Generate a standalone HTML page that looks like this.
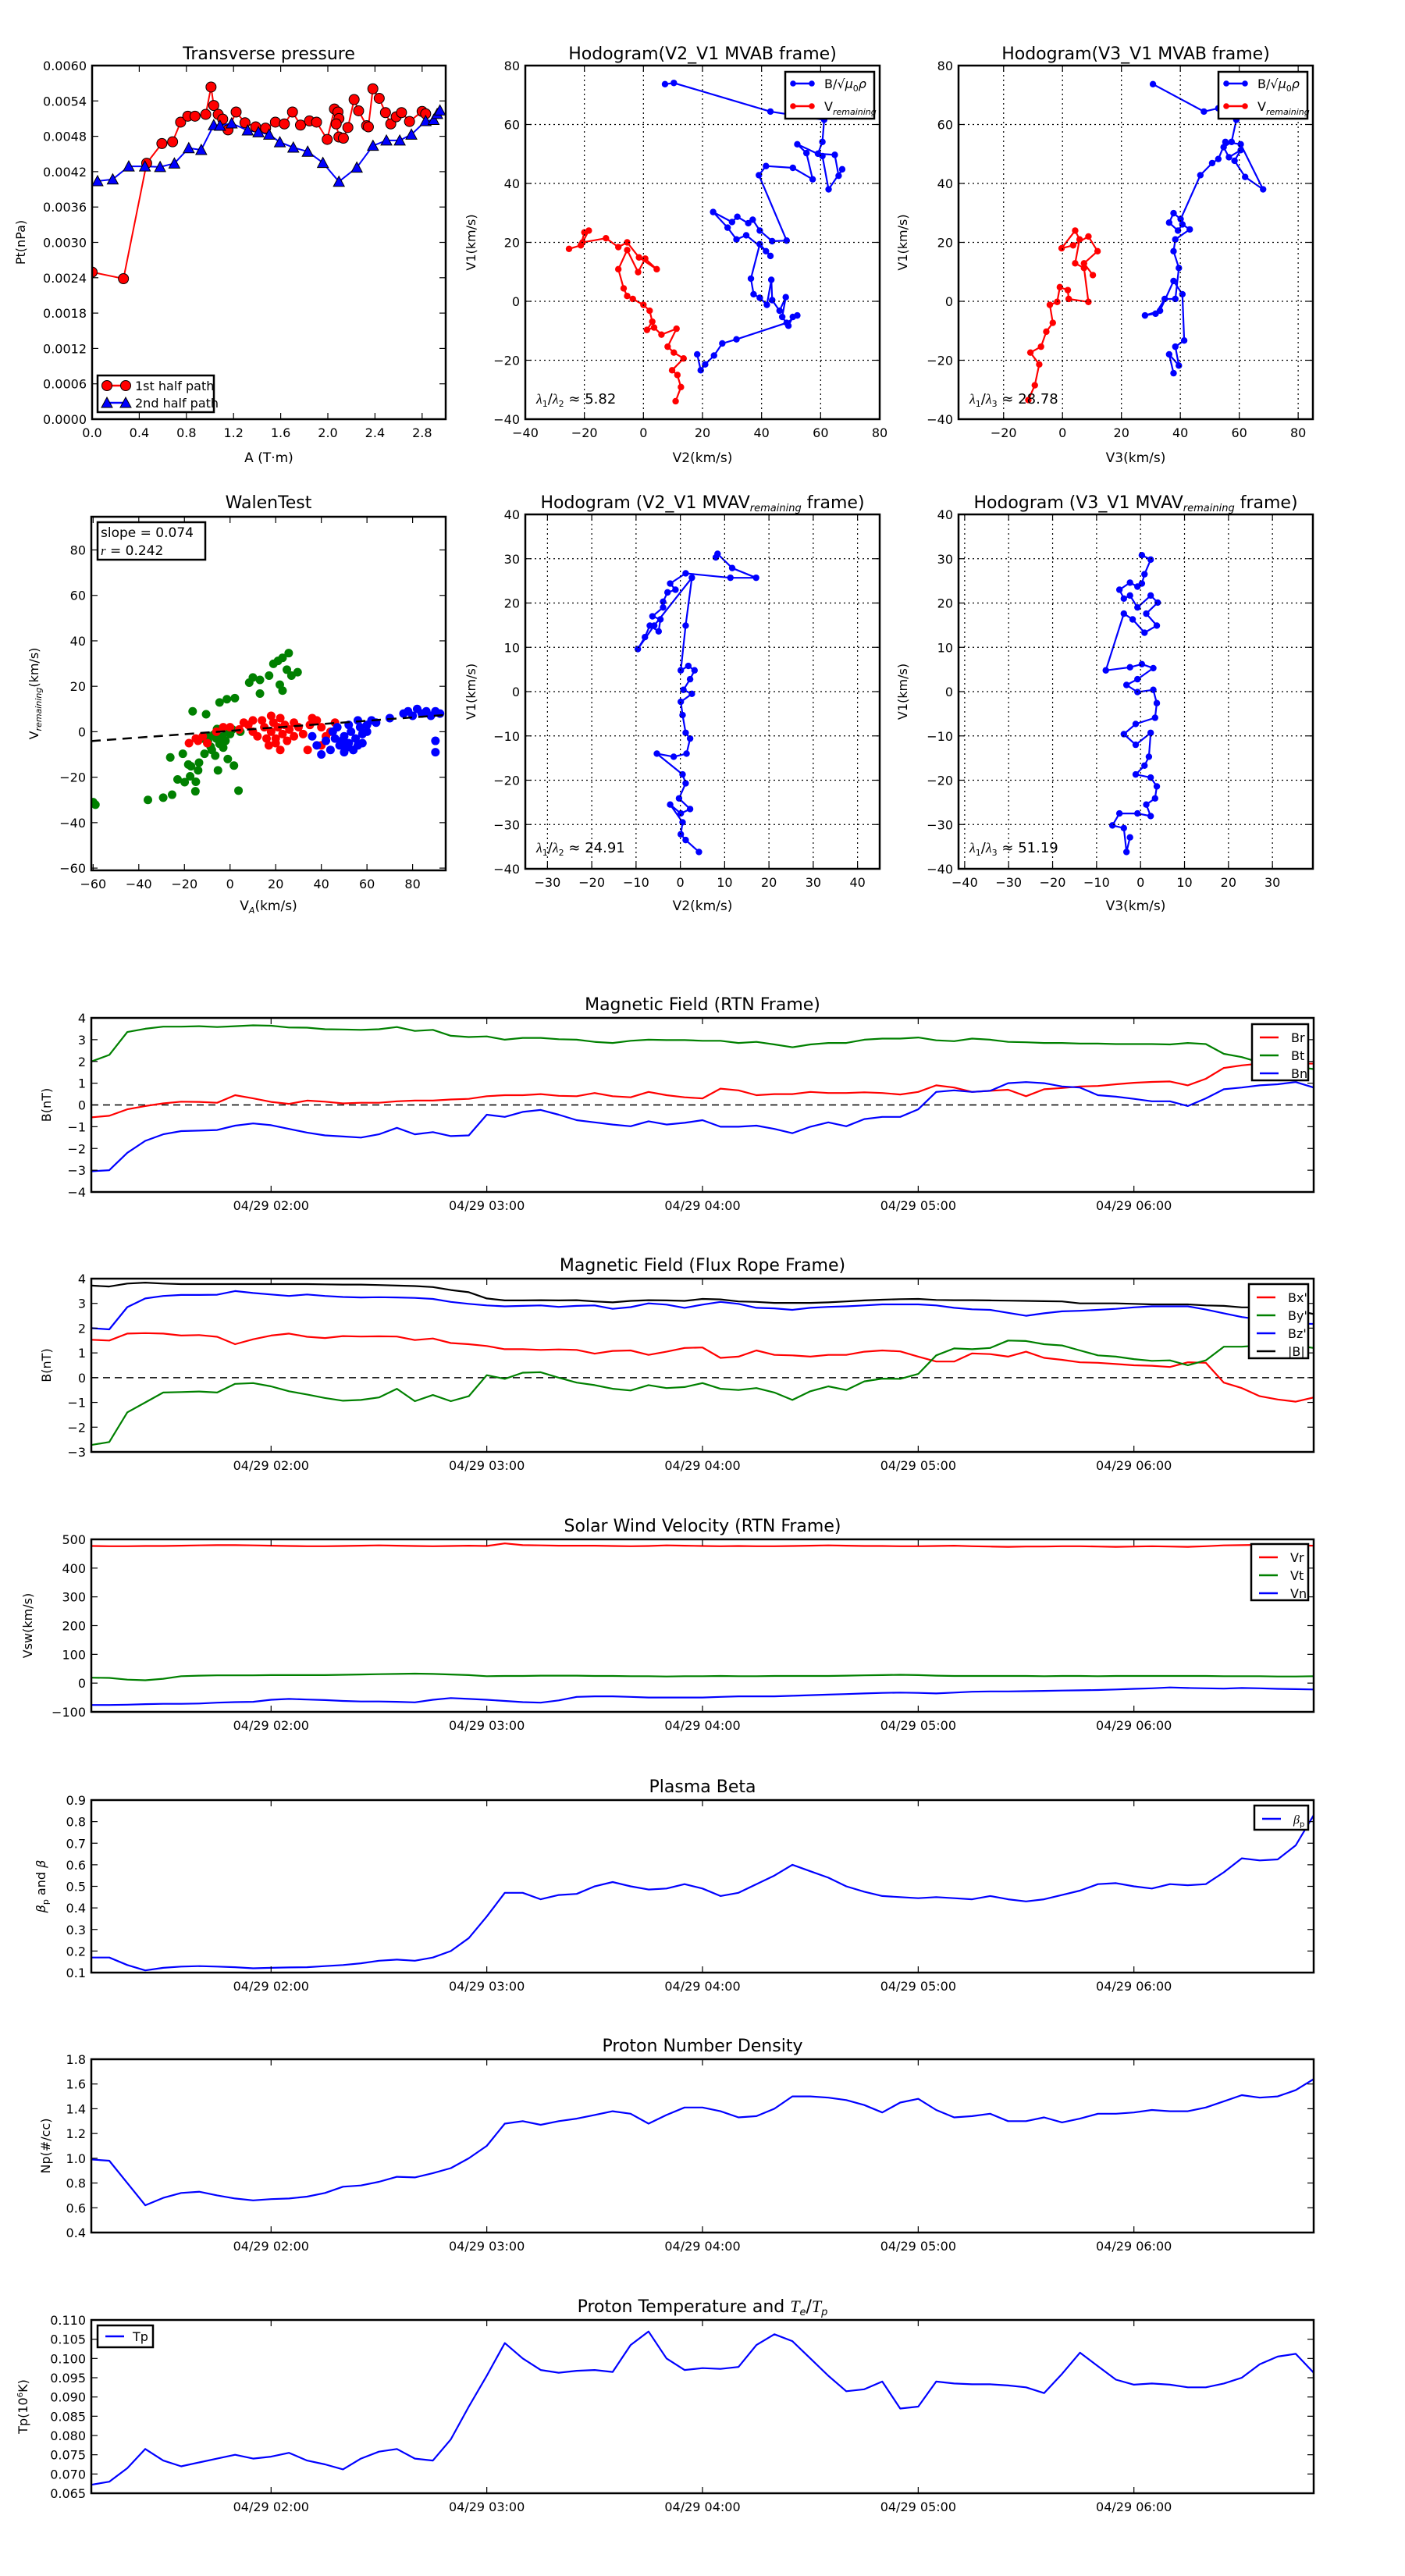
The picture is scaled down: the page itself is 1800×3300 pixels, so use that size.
<!DOCTYPE html>
<html><head><meta charset="utf-8"><title>Flux rope analysis</title>
<style>
html,body{margin:0;padding:0;background:#fff;}
svg{display:block;font-family:"DejaVu Sans","Liberation Sans",sans-serif;}
</style></head>
<body>
<svg id="fig" xmlns="http://www.w3.org/2000/svg" width="1800" height="3300" viewBox="0 0 1800 3300">
<rect x="0" y="0" width="1800" height="3300" fill="#fff"/>
</svg>
<script>
// ---------- Transverse pressure ----------
const ptRedA=[0,0.266,0.463,0.592,0.683,0.751,0.812,0.873,0.964,1.009,1.032,1.07,1.108,1.153,1.222,1.297,1.388,1.472,1.555,1.631,1.7,1.768,1.844,1.904,1.995,2.056,2.086,2.094,2.071,2.094,2.132,2.17,2.223,2.261,2.329,2.344,2.382,2.436,2.489,2.534,2.58,2.625,2.693,2.8,2.83];
const ptRedP=[0.002495,0.002384,0.004343,0.004677,0.004707,0.00504,0.005141,0.005141,0.005172,0.005636,0.005323,0.005172,0.005091,0.004909,0.005212,0.00503,0.00496,0.004939,0.00504,0.00501,0.005212,0.00499,0.005061,0.00504,0.004747,0.005263,0.005212,0.005101,0.00501,0.004788,0.004768,0.004949,0.005424,0.005232,0.00498,0.00496,0.005606,0.005444,0.005202,0.00501,0.005131,0.005202,0.005051,0.005222,0.005182];
const ptBlueA=[0.046,0.175,0.311,0.448,0.577,0.698,0.82,0.926,1.032,1.085,1.184,1.32,1.411,1.502,1.593,1.707,1.829,1.958,2.094,2.246,2.383,2.497,2.61,2.709,2.83,2.898,2.928,2.951];
const ptBlueP=[0.00404,0.00407,0.00429,0.00429,0.00428,0.00434,0.0046,0.00457,0.00499,0.00498,0.00502,0.0049,0.00487,0.00483,0.0047,0.00461,0.00454,0.00435,0.00403,0.00427,0.00464,0.00473,0.00473,0.00483,0.00506,0.00508,0.00518,0.00524];
const ptXTicks=[0,0.4,0.8,1.2,1.6,2.0,2.4,2.8];
const ptYTicks=[0,0.0006,0.0012,0.0018,0.0024,0.003,0.0036,0.0042,0.0048,0.0054,0.006];
// ---------- Hodogram V2-V1 MVAB ----------
const h1BlueX=[7.3,10.3,43,61.2,60.6,59.1,64.8,66.1,67.3,62.7,60.6,52.1,55.2,57.3,50.6,41.5,39.1,48.5,43.6,39.4,37,35.5,31.8,30,23.6,28.5,31.5,34.8,41.5,43,39.4,36.4,37.3,39.4,41.8,43.3,43.6,46.1,48.2,47,49.1,50.6,52.1,48.5,31.5,26.7,23.9,20.9,19.4,18.2];
const h1BlueY=[73.7,74.1,64.4,61.6,54.1,50.1,49.7,42.6,44.8,38,49.3,53.3,50.3,41.4,45.3,45.9,42.8,20.6,20.4,24,27.7,26.5,28.7,26.9,30.3,25,21,22.4,17,15.4,19.4,7.7,2.4,1.2,-1.2,7.3,0.4,-3.2,1.4,-5.3,-8.3,-5.3,-4.8,-7.3,-12.9,-14.3,-18.4,-21.4,-23.4,-18];
const h1RedX=[-25.2,-21.2,-20,-18.5,-20.6,-12.7,-8.5,-5.5,-1.5,4.5,0.6,-1.8,-5.5,-8.5,-6.7,-5.5,-3.6,0,2.1,3,1.2,3.6,6.1,11.2,8.2,10.3,13.6,9.7,11.5,12.7,10.9];
const h1RedY=[17.8,19,23.4,24,20,21.4,18.4,20,14.9,10.9,14.5,9.9,17.4,10.9,4.4,1.8,0.8,-1.2,-3.2,-6.9,-9.7,-8.9,-11.3,-9.3,-15.4,-17.4,-19.4,-23.4,-25,-29.1,-33.9];
// ---------- Hodogram V3-V1 MVAB ----------
const h2BlueX=[30.7,48,52.9,59,57.4,54.7,56.5,60.5,58.4,62,68.1,60.5,55.3,52.9,50.8,46.8,40.1,37.7,36.2,39.2,40.7,43.2,38.3,37.7,39.5,38.3,34.7,31.6,28,33.1,37.7,40.7,41.3,38.3,39.5,36.2,37.7];
const h2BlueY=[73.7,64.4,65.5,61.6,54.1,52.3,48.9,51.3,47.7,42.2,38,53.3,54.1,48.3,46.9,42.8,27.9,29.9,26.7,24,26.1,24.4,21,17,11.3,0.8,0.8,-4.2,-4.8,-3.2,6.9,2.4,-13.3,-15.4,-21.8,-18,-24.4];
const h2RedX=[-11.6,-9.4,-7.9,-10.9,-7.3,-5.5,-3.3,-4.3,-1.8,-0.9,1.8,2.1,8.8,7.3,4.3,5.8,4.3,-0.3,3.6,8.8,11.9,7.3,10.3];
const h2RedY=[-33.5,-28.5,-21.4,-17.4,-15.4,-10.3,-7.3,-1.2,-0.2,4.8,3.8,0.8,-0.2,11.3,12.9,21,24,18,19,22,17,12.9,8.9];
// ---------- Walen test ----------
const walGreenX=[-60,-59,-36,-29.3,-25.4,-23,-19.9,-17.5,-15.2,-17.1,-13.6,-18.3,-26.2,-20.7,-11.2,-6.5,-5.3,-8.5,-4.6,-9.7,-7.3,-3.4,-5.7,-1.4,1.7,3.7,4.5,-10.5,-16.4,-4.6,-1.4,2.1,8.4,13.1,17.1,10,13.1,23,21.8,26.9,24.9,29.6,21,23,25.7,19,-2,0,-8,-1,-12,1,-3,-6,-9,-14,-15];
const walGreenY=[-31,-32.1,-30,-29,-27.7,-21,-22.2,-19.6,-26.2,-15.2,-13.6,-14.4,-11.3,-9.7,-9.7,-10.5,-17,-6.6,-5.3,-4,-1.4,-2.2,1.2,0,-14.9,-25.9,0,7.7,9,12.9,14.3,14.8,21.6,22.8,24.7,23.9,16.8,18.1,20.7,24.7,27.3,26.2,31.2,32.5,34.6,29.9,-4,-1,-8,-12,-3,1,-7,-3,-2,-17,-22];
const walRedX=[-18,-15,-12,-10,-6,-3,0,4,6,8,10,12,14,15,16,18,19,20,21,22,23,24,25,26,28,30,32,34,35,36,38,40,42,44,46,18,22,10,28,-14,17,20,40];
const walRedY=[-5,-3,-2,-5,0,2,2,1,4,3,0,-2,5,2,-3,0,4,-5,2,6,-1,3,-4,1,-2,2,-1,-8,3,6,5,2,-2,0,4,7,-8,5,4,-4,-6,-3,-6];
const walBlueX=[36,38,40,42,44,45,46,48,50,50,52,53,54,55,56,57,58,58,60,60,62,64,70,76,78,80,82,84,86,88,90,92,90,90,47,52,56,54,51,49];
const walBlueY=[-2,-6,-10,-4,-8,0,-3,-6,-9,-2,-5,0,-8,-3,-6,2,-1,-5,0,3,5,4,6,8,9,7,10,8,9,7,9,8,-4,-9,2,3,5,-8,-7,-4];
const walSlope=[0.074], walIntercept=[0.4];
// ---------- Hodogram MVAV ----------
const h3X=[8,8.4,11.7,17.1,11.3,1.2,-2.3,-1.1,-2.9,-3.9,-3.9,-6.3,-4.5,-4.9,-6.9,-8,-9.6,-5.9,2.6,1.2,0.1,1.8,3.2,2.2,0.7,2.6,0.1,0.5,1.2,2.2,1.4,-1.5,-5.3,0.5,1.2,-0.3,2.2,0.1,-2.3,0.5,0.1,1.2,4.2];
const h3Y=[30.3,31.1,27.9,25.7,25.7,26.7,24.4,23,22.4,20.3,19,17,16.3,13.6,14.9,12.3,9.6,14.9,25.7,14.9,4.8,5.8,4.8,2.8,0.4,-0.5,-2.3,-5.3,-9.3,-10.6,-14,-14.7,-14,-18.7,-20.7,-24.1,-26.5,-27.5,-25.5,-29.5,-32.2,-33.5,-36.2];
const h4X=[0.3,2.3,0.9,0.3,-0.7,-2.4,-4.8,-3.8,-2.4,-0.7,2.3,3.9,1.3,3.7,0.9,-1.8,-3.8,-7.9,-2.4,0.3,2.9,-0.7,-3.2,-0.7,2.9,3.7,3.3,-1.1,-3.8,-1.1,2.3,1.9,0.9,-1.1,2.3,3.7,3.3,1.3,2.3,-0.7,-4.8,-6.4,-3.8,-3.2,-2.4];
const h4Y=[30.8,29.8,26.5,24.4,23.7,24.6,23,21,21.7,19,21.7,20.1,17.6,14.9,13.3,16.3,17.6,4.8,5.5,6.2,5.3,2.8,1.5,-0.1,0.4,-2.6,-5.9,-7.3,-9.6,-12,-9.3,-14.7,-16.7,-18.7,-19.4,-21.4,-24.1,-25.5,-28.1,-27.5,-27.5,-30.2,-30.8,-36.2,-32.9];
// ---------- Time series (5-min samples from 01:10) ----------
const tsStep=5;
const timeTickMin=[50,110,170,230,290];
const timeTickLabels=["04/29 02:00","04/29 03:00","04/29 04:00","04/29 05:00","04/29 06:00"];
const Br=[-0.57,-0.5,-0.2,-0.05,0.07,0.15,0.14,0.1,0.45,0.3,0.14,0.05,0.2,0.15,0.07,0.1,0.1,0.17,0.2,0.2,0.25,0.28,0.4,0.45,0.45,0.5,0.42,0.4,0.55,0.4,0.35,0.6,0.45,0.35,0.3,0.75,0.67,0.45,0.5,0.5,0.6,0.55,0.55,0.58,0.55,0.48,0.6,0.9,0.8,0.6,0.65,0.7,0.4,0.72,0.78,0.85,0.87,0.95,1.02,1.06,1.08,0.9,1.2,1.7,1.82,1.9,1.92,1.9,1.9];
const Bt=[2.0,2.3,3.35,3.5,3.6,3.6,3.62,3.58,3.62,3.66,3.64,3.56,3.55,3.48,3.47,3.45,3.48,3.58,3.4,3.45,3.18,3.12,3.15,3.0,3.08,3.08,3.02,3.0,2.9,2.85,2.95,3.0,2.98,2.98,2.95,2.95,2.85,2.9,2.78,2.65,2.78,2.85,2.85,3.0,3.05,3.05,3.1,2.97,2.93,3.05,3.0,2.9,2.88,2.85,2.85,2.82,2.82,2.8,2.8,2.8,2.78,2.85,2.8,2.35,2.2,1.95,1.85,1.75,1.65];
const Bn=[-3.05,-3.0,-2.2,-1.65,-1.35,-1.2,-1.18,-1.15,-0.95,-0.85,-0.93,-1.1,-1.27,-1.4,-1.45,-1.5,-1.35,-1.05,-1.35,-1.25,-1.43,-1.4,-0.45,-0.55,-0.32,-0.23,-0.45,-0.7,-0.8,-0.9,-0.98,-0.75,-0.9,-0.82,-0.7,-1.0,-1.0,-0.95,-1.1,-1.3,-1.0,-0.8,-0.98,-0.65,-0.55,-0.55,-0.2,0.6,0.67,0.6,0.65,1.0,1.05,1.0,0.85,0.8,0.45,0.38,0.28,0.17,0.17,-0.05,0.3,0.72,0.8,0.9,0.95,1.05,0.8];
const Bxp=[1.53,1.5,1.78,1.8,1.78,1.7,1.72,1.65,1.35,1.55,1.7,1.78,1.65,1.6,1.68,1.66,1.67,1.66,1.52,1.58,1.4,1.35,1.28,1.15,1.15,1.12,1.14,1.12,0.97,1.08,1.1,0.92,1.05,1.2,1.22,0.8,0.85,1.1,0.92,0.9,0.85,0.92,0.92,1.05,1.1,1.06,0.85,0.65,0.65,0.98,0.95,0.85,1.05,0.8,0.72,0.62,0.6,0.55,0.5,0.48,0.43,0.62,0.6,-0.2,-0.42,-0.75,-0.88,-0.97,-0.8];
const Byp=[-2.72,-2.6,-1.4,-1.0,-0.6,-0.58,-0.56,-0.6,-0.25,-0.22,-0.35,-0.55,-0.68,-0.82,-0.93,-0.9,-0.8,-0.45,-0.95,-0.7,-0.95,-0.75,0.1,-0.05,0.2,0.22,0.0,-0.2,-0.3,-0.45,-0.52,-0.3,-0.42,-0.38,-0.22,-0.45,-0.5,-0.42,-0.6,-0.9,-0.55,-0.35,-0.5,-0.15,-0.04,-0.05,0.15,0.9,1.18,1.15,1.2,1.5,1.48,1.35,1.3,1.1,0.9,0.85,0.75,0.68,0.7,0.5,0.7,1.25,1.25,1.3,1.3,1.3,1.2];
const Bzp=[2.0,1.95,2.85,3.2,3.3,3.34,3.34,3.35,3.5,3.42,3.36,3.3,3.36,3.3,3.26,3.24,3.25,3.24,3.22,3.18,3.06,2.98,2.92,2.88,2.9,2.92,2.86,2.9,2.92,2.78,2.85,3.0,2.95,2.82,2.95,3.06,2.98,2.82,2.8,2.74,2.82,2.86,2.88,2.92,2.96,2.96,2.96,2.92,2.82,2.76,2.74,2.62,2.5,2.6,2.68,2.7,2.74,2.78,2.84,2.88,2.88,2.88,2.75,2.6,2.45,2.35,2.28,2.18,2.17];
const Bmag=[3.72,3.68,3.8,3.84,3.8,3.78,3.78,3.78,3.78,3.78,3.78,3.78,3.78,3.77,3.76,3.76,3.74,3.72,3.7,3.66,3.54,3.45,3.2,3.12,3.12,3.13,3.12,3.13,3.08,3.04,3.1,3.13,3.12,3.1,3.18,3.16,3.08,3.06,3.02,3.02,3.02,3.04,3.08,3.12,3.15,3.17,3.18,3.14,3.13,3.13,3.12,3.11,3.1,3.09,3.08,3.0,3.0,3.0,2.98,2.96,2.96,2.96,2.92,2.9,2.84,2.84,2.78,2.73,2.57];
const Vr=[477,476,476,477,477,478,479,480,480,479,478,477,476,476,477,478,479,478,477,476,477,478,477,486,480,479,478,478,478,477,476,477,479,478,477,476,477,476,476,477,478,479,478,477,477,476,476,477,478,476,475,474,475,475,476,476,475,474,475,476,475,474,476,479,480,481,480,479,478];
const Vt=[19,18,12,10,15,24,26,27,27,27,28,28,28,28,29,30,31,32,33,32,30,28,24,25,25,26,26,26,25,25,24,24,23,24,24,25,24,24,25,25,25,25,26,27,28,29,28,26,25,25,25,25,25,24,25,25,24,25,25,25,25,25,25,24,24,24,23,23,24];
const Vn=[-76,-76,-75,-73,-72,-72,-71,-68,-66,-65,-58,-55,-57,-59,-62,-64,-64,-65,-67,-58,-52,-55,-58,-62,-66,-68,-60,-48,-46,-46,-48,-50,-50,-50,-50,-48,-46,-46,-46,-44,-42,-40,-38,-36,-34,-33,-34,-36,-33,-30,-29,-29,-28,-27,-26,-25,-24,-22,-20,-18,-15,-17,-18,-19,-17,-18,-20,-21,-22];
const betaP=[0.17,0.17,0.135,0.11,0.122,0.128,0.13,0.128,0.125,0.12,0.122,0.124,0.125,0.13,0.135,0.143,0.155,0.16,0.155,0.17,0.2,0.26,0.36,0.47,0.47,0.44,0.46,0.465,0.5,0.52,0.5,0.485,0.49,0.51,0.49,0.455,0.47,0.51,0.55,0.6,0.57,0.54,0.5,0.475,0.455,0.45,0.445,0.45,0.445,0.44,0.455,0.44,0.43,0.44,0.46,0.48,0.51,0.515,0.5,0.49,0.51,0.505,0.51,0.565,0.63,0.62,0.625,0.69,0.83];
const Np=[0.99,0.98,0.8,0.62,0.68,0.72,0.73,0.7,0.675,0.66,0.67,0.675,0.69,0.72,0.77,0.78,0.81,0.85,0.845,0.88,0.92,1.0,1.1,1.28,1.3,1.27,1.3,1.32,1.35,1.38,1.36,1.28,1.35,1.41,1.41,1.38,1.33,1.34,1.4,1.5,1.5,1.49,1.47,1.43,1.37,1.45,1.48,1.39,1.33,1.34,1.36,1.3,1.3,1.33,1.29,1.32,1.36,1.36,1.37,1.39,1.38,1.38,1.41,1.46,1.51,1.49,1.5,1.55,1.64];
const Tp=[0.0672,0.068,0.0715,0.0765,0.0735,0.072,0.073,0.074,0.075,0.074,0.0745,0.0755,0.0735,0.0725,0.0712,0.074,0.0758,0.0765,0.074,0.0735,0.079,0.0875,0.0955,0.104,0.1,0.097,0.0963,0.0968,0.097,0.0965,0.1035,0.107,0.1,0.097,0.0975,0.0973,0.0978,0.1035,0.1063,0.1045,0.1,0.0955,0.0915,0.092,0.094,0.087,0.0875,0.094,0.0935,0.0933,0.0933,0.093,0.0925,0.091,0.096,0.1015,0.098,0.0945,0.0932,0.0935,0.0932,0.0925,0.0925,0.0935,0.095,0.0985,0.1005,0.1012,0.0963];

const NS='http://www.w3.org/2000/svg';
const svg=document.getElementById('fig');
function mk(tag,attrs,parent){const e=document.createElementNS(NS,tag);for(const k in attrs)e.setAttribute(k,attrs[k]);(parent||svg).appendChild(e);return e;}
let clipN=0;
function axes(name,box,xl,yl){
  const g=mk('g',{});
  
  
  const id='c'+(clipN++);
  const cp=mk('clipPath',{id:id},g);
  mk('rect',{x:box.x0,y:box.y0,width:box.x1-box.x0,height:box.y1-box.y0},cp);
  const plot=mk('g',{'clip-path':'url(#'+id+')'},g);
  
  
  const sx=v=>box.x0+(v-xl[0])/(xl[1]-xl[0])*(box.x1-box.x0);
  const sy=v=>box.y1-(v-yl[0])/(yl[1]-yl[0])*(box.y1-box.y0);
  return {g,plot,box,sx,sy};
}
function frame(ax){
  const r=mk('rect',{x:ax.box.x0,y:ax.box.y0,width:ax.box.x1-ax.box.x0,height:ax.box.y1-ax.box.y0,fill:'none',stroke:'#000','stroke-width':2.5},ax.g);
  
  
}
function xticks(ax,vals,labels,grid){
  const b=ax.box;
  vals.forEach((v,i)=>{
    const x=ax.sx(v);
    if(grid){mk('line',{x1:x,x2:x,y1:b.y0,y2:b.y1,stroke:'#000','stroke-width':1.2,'stroke-dasharray':'2,4'},ax.g);}
    mk('line',{x1:x,x2:x,y1:b.y1,y2:b.y1-8,stroke:'#000','stroke-width':1.2},ax.g);
    mk('line',{x1:x,x2:x,y1:b.y0,y2:b.y0+8,stroke:'#000','stroke-width':1.2},ax.g);
    const t=mk('text',{x:x,y:b.y1+23,'text-anchor':'middle','font-size':16,fill:'#000'},ax.g);
    t.textContent=labels[i];
    
    
  });
}
function yticks(ax,vals,labels,grid){
  const b=ax.box;
  vals.forEach((v,i)=>{
    const y=ax.sy(v);
    if(grid){mk('line',{x1:b.x0,x2:b.x1,y1:y,y2:y,stroke:'#000','stroke-width':1.2,'stroke-dasharray':'2,4'},ax.g);}
    mk('line',{x1:b.x0,x2:b.x0+8,y1:y,y2:y,stroke:'#000','stroke-width':1.2},ax.g);
    mk('line',{x1:b.x1,x2:b.x1-8,y1:y,y2:y,stroke:'#000','stroke-width':1.2},ax.g);
    const t=mk('text',{x:b.x0-7,y:y+6,'text-anchor':'end','font-size':16,fill:'#000'},ax.g);
    t.textContent=labels[i];
    
    
  });
}
function title(ax,txt,y){
  const t=mk('text',{x:(ax.box.x0+ax.box.x1)/2,y:y,'text-anchor':'middle','font-size':22,fill:'#000'},ax.g);
  t.innerHTML=txt;
  
  
}
function xlabel(ax,txt,y){
  const t=mk('text',{x:(ax.box.x0+ax.box.x1)/2,y:y,'text-anchor':'middle','font-size':17,fill:'#000'},ax.g);
  t.innerHTML=txt;
  
  
}
function ylabel(ax,txt,x){
  const cy=(ax.box.y0+ax.box.y1)/2;
  const t=mk('text',{x:x,y:cy,'text-anchor':'middle','font-size':16,fill:'#000',transform:'rotate(-90 '+x+' '+cy+')'},ax.g);
  t.innerHTML=txt;
  
  
}
function pathLine(ax,xs,ys,color,w,name){
  const pts=xs.map((x,i)=>ax.sx(x).toFixed(1)+','+ax.sy(ys[i]).toFixed(1)).join(' ');
  const p=mk('polyline',{points:pts,fill:'none',stroke:color,'stroke-width':w,'stroke-linejoin':'round'},ax.plot);
  
  
  return p;
}
function dots(ax,xs,ys,color,r,name,edge){
  xs.forEach((x,i)=>{
    const c=mk('circle',{cx:ax.sx(x),cy:ax.sy(ys[i]),r:r,fill:color,stroke:edge||'none','stroke-width':edge?1:0},ax.plot);
    
    
  });
}
function legendBox(ax,x,y,w,h,name){
  const r=mk('rect',{x:x,y:y,width:w,height:h,fill:'#fff',stroke:'#000','stroke-width':2.5},ax.g);
  
  
}
function legendEntry(ax,x,y,color,label,marker,name){
  const g=mk('g',{},ax.g);
  
  
  mk('line',{x1:x,x2:x+24,y1:y,y2:y,stroke:color,'stroke-width':2.5},g);
  if(marker==='o'){mk('circle',{cx:x,cy:y,r:3.8,fill:color},g);mk('circle',{cx:x+24,cy:y,r:3.8,fill:color},g);}
  if(marker==='O'){mk('circle',{cx:x,cy:y,r:6.5,fill:color,stroke:'#000'},g);mk('circle',{cx:x+24,cy:y,r:6.5,fill:color,stroke:'#000'},g);}
  if(marker==='^'){[x,x+24].forEach(px=>mk('polygon',{points:(px-7)+','+(y+6)+' '+(px+7)+','+(y+6)+' '+px+','+(y-7),fill:color,stroke:'#000'},g));}
  const t=mk('text',{x:x+(marker==='O'||marker==='^'?36:40),y:y+6,'font-size':16,fill:'#000'},g);
  t.innerHTML=label;
}
const fmt=(d)=>v=>v.toFixed(d).replace('-','\u2212');
const rng=(a,b,s)=>{const r=[];for(let v=a;v<=b+1e-9;v+=s)r.push(+v.toFixed(6));return r;};

// ===== Transverse pressure =====
{
const ax=axes('transverse-pressure-chart',{x0:118,x1:571,y0:84,y1:537},[0,3],[0,0.006]);
pathLine(ax,ptRedA,ptRedP,'#ff0000',2,'first-half-line');
pathLine(ax,ptBlueA,ptBlueP,'#0000ff',2,'second-half-line');
dots(ax,ptRedA,ptRedP,'#ff0000',6.5,'first-half-point','#000');
ptBlueA.forEach((a,i)=>{const x=ax.sx(a),y=ax.sy(ptBlueP[i]);
  const p=mk('polygon',{points:(x-7)+','+(y+6)+' '+(x+7)+','+(y+6)+' '+x+','+(y-7),fill:'#0000ff',stroke:'#000'},ax.plot);
  
  });
xticks(ax,ptXTicks,ptXTicks.map(fmt(1)));
yticks(ax,ptYTicks,ptYTicks.map(fmt(4)));
frame(ax);
title(ax,'Transverse pressure',76);
xlabel(ax,'A (T·m)',592);
ylabel(ax,'Pt(nPa)',32);
legendBox(ax,125,481,149,47,'legend');
legendEntry(ax,137,494,'#ff0000','1st half path','O','legend-entry-first-half');
legendEntry(ax,137,516,'#0000ff','2nd half path','^','legend-entry-second-half');
}
// ===== Hodogram helpers =====
const bLabel='B/√<tspan font-style="italic">μ</tspan><tspan font-size="11" dy="4">0</tspan><tspan dy="-4" font-style="italic">ρ</tspan>';
const vLabel='V<tspan font-size="11" dy="5" font-style="italic">remaining</tspan>';
function hodo(name,box,xl,yl,xt,yt,series,ttl,ty,xlab,xly,ylx,lam,lamy,legend){
  const ax=axes(name,box,xl,yl);
  xticks(ax,xt,xt.map(fmt(0)),true);
  yticks(ax,yt,yt.map(fmt(0)),true);
  series.forEach(s=>{pathLine(ax,s.x,s.y,s.c,2.2,s.n+'-line');dots(ax,s.x,s.y,s.c,4.2,s.n+'-point');});
  frame(ax);
  title(ax,ttl,ty);
  xlabel(ax,xlab,xly);
  ylabel(ax,'V1(km/s)',ylx);
  const t=mk('text',{x:box.x0+14,y:lamy,'font-size':18,fill:'#000'},ax.g);
  t.innerHTML=lam;
  
  
  if(legend){
    legendBox(ax,legend,92,114,60,'legend');
    legendEntry(ax,legend+10,107,'#0000ff',bLabel,'o','legend-entry-b');
    legendEntry(ax,legend+10,136,'#ff0000',vLabel,'o','legend-entry-v');
  }
}
const lam=(a,b,v)=>'<tspan font-style="italic" font-family="Liberation Serif">λ</tspan><tspan font-size="11" dy="4">1</tspan><tspan dy="-4">/</tspan><tspan font-style="italic" font-family="Liberation Serif">λ</tspan><tspan font-size="11" dy="4">'+b+'</tspan><tspan dy="-4"> ≈ '+v+'</tspan>';
hodo('hodogram-v2-v1-mvab',{x0:673,x1:1127,y0:84,y1:537},[-40,80],[-40,80],rng(-40,80,20),rng(-40,80,20),
  [{x:h1BlueX,y:h1BlueY,c:'#0000ff',n:'b-series'},{x:h1RedX,y:h1RedY,c:'#ff0000',n:'v-series'}],
  'Hodogram(V2_V1 MVAB frame)',76,'V2(km/s)',592,609,lam(1,2,'5.82'),517,1006);
hodo('hodogram-v3-v1-mvab',{x0:1228,x1:1682,y0:84,y1:537},[-35.3,85],[-40,80],rng(-20,80,20),rng(-40,80,20),
  [{x:h2BlueX,y:h2BlueY,c:'#0000ff',n:'b-series'},{x:h2RedX,y:h2RedY,c:'#ff0000',n:'v-series'}],
  'Hodogram(V3_V1 MVAB frame)',76,'V3(km/s)',592,1162,lam(1,3,'28.78'),517,1561);
const remT='<tspan font-size="13" dy="4" font-style="italic">remaining</tspan><tspan dy="-4"> frame)</tspan>';
hodo('hodogram-v2-v1-mvav',{x0:673,x1:1127,y0:659,y1:1113},[-35,45],[-40,40],rng(-30,40,10),rng(-40,40,10),
  [{x:h3X,y:h3Y,c:'#0000ff',n:'b-series'}],
  'Hodogram (V2_V1 MVAV'+remT,651,'V2(km/s)',1166,609,lam(1,2,'24.91'),1092,0);
hodo('hodogram-v3-v1-mvav',{x0:1228,x1:1682,y0:659,y1:1113},[-41.4,39.2],[-40,40],rng(-40,30,10),rng(-40,40,10),
  [{x:h4X,y:h4Y,c:'#0000ff',n:'b-series'}],
  'Hodogram (V3_V1 MVAV'+remT,651,'V3(km/s)',1166,1162,lam(1,3,'51.19'),1092,0);
// ===== Walen test =====
{
const ax=axes('walen-test-chart',{x0:117,x1:571,y0:662,y1:1115},[-60.8,94.5],[-61,94.6]);
dots(ax,walGreenX,walGreenY,'#008000',5.5,'green-point');
dots(ax,walRedX,walRedY,'#ff0000',5.5,'red-point');
dots(ax,walBlueX,walBlueY,'#0000ff',5.5,'blue-point');
const fx=[-60.8,94.5];
const fl=mk('line',{x1:ax.sx(fx[0]),y1:ax.sy(walSlope[0]*fx[0]+walIntercept[0]),x2:ax.sx(fx[1]),y2:ax.sy(walSlope[0]*fx[1]+walIntercept[0]),stroke:'#000','stroke-width':2.5,'stroke-dasharray':'12,8'},ax.plot);


const wx=rng(-60,80,20), wy=rng(-60,80,20);
xticks(ax,wx,wx.map(fmt(0)));
yticks(ax,wy,wy.map(fmt(0)));
frame(ax);
title(ax,'WalenTest',651);
xlabel(ax,'V<tspan font-size="11" dy="4" font-style="italic">A</tspan><tspan dy="-4">(km/s)</tspan>',1166);
ylabel(ax,'V<tspan font-size="11" dy="4" font-style="italic">remaining</tspan><tspan dy="-4">(km/s)</tspan>',49);
legendBox(ax,125,669,138,48,'slope-box');
const t1=mk('text',{x:129,y:688,'font-size':17,fill:'#000'},ax.g);t1.textContent='slope = 0.074';


const t2=mk('text',{x:129,y:711,'font-size':17,fill:'#000'},ax.g);t2.innerHTML='<tspan font-style="italic" font-family="Liberation Serif">r</tspan> = 0.242';


}
// ===== Time series =====
function ts(name,y0,y1,yl,yt,ylabFmt,series,ttl,ylab,ylx,zero,leg){
  const ax=axes(name,{x0:117,x1:1683,y0:y0,y1:y1},[0,340],yl);
  if(zero){const z=mk('line',{x1:117,x2:1683,y1:ax.sy(0),y2:ax.sy(0),stroke:'#000','stroke-width':1.5,'stroke-dasharray':'9,6'},ax.plot);
    
    }
  series.forEach(s=>{pathLine(ax,s.v.map((_,i)=>i*tsStep),s.v,s.c,2.2,s.n);});
  xticks(ax,timeTickMin,timeTickLabels);
  yticks(ax,yt,yt.map(ylabFmt));
  frame(ax);
  title(ax,ttl,y0-10);
  ylabel(ax,ylab,ylx);
  if(leg){
    legendBox(ax,leg.x,leg.y,leg.w,leg.h,'legend');
    series.forEach((s,i)=>legendEntry(ax,leg.x+10,leg.y+17+i*23,s.c,s.l,'',  'legend-entry-'+s.n));
  }
  return ax;
}
ts('magnetic-field-rtn-chart',1304,1527,[-4,4],rng(-4,4,1),fmt(0),
  [{v:Br,c:'#ff0000',n:'br-line',l:'Br'},{v:Bt,c:'#008000',n:'bt-line',l:'Bt'},{v:Bn,c:'#0000ff',n:'bn-line',l:'Bn'}],
  'Magnetic Field (RTN Frame)','B(nT)',65,true,{x:1604,y:1312,w:72,h:72});
ts('magnetic-field-flux-rope-chart',1638,1860,[-3,4],rng(-3,4,1),fmt(0),
  [{v:Bxp,c:'#ff0000',n:'bx-line',l:"Bx'"},{v:Byp,c:'#008000',n:'by-line',l:"By'"},{v:Bzp,c:'#0000ff',n:'bz-line',l:"Bz'"},{v:Bmag,c:'#000000',n:'bmag-line',l:'|B|'}],
  'Magnetic Field (Flux Rope Frame)','B(nT)',65,true,{x:1600,y:1645,w:76,h:95});
ts('solar-wind-velocity-chart',1972,2193,[-100,500],rng(-100,500,100),fmt(0),
  [{v:Vr,c:'#ff0000',n:'vr-line',l:'Vr'},{v:Vt,c:'#008000',n:'vt-line',l:'Vt'},{v:Vn,c:'#0000ff',n:'vn-line',l:'Vn'}],
  'Solar Wind Velocity (RTN Frame)','Vsw(km/s)',41,false,{x:1603,y:1978,w:73,h:72});
ts('plasma-beta-chart',2306,2527,[0.1,0.9],rng(0.1,0.9,0.1),fmt(1),
  [{v:betaP,c:'#0000ff',n:'beta-line',l:'<tspan font-style="italic" font-family="Liberation Serif">β</tspan><tspan font-size="10" dy="4">p</tspan>'}],
  'Plasma Beta','<tspan font-style="italic">β</tspan><tspan font-size="11" dy="4">p</tspan><tspan dy="-4"> and </tspan><tspan font-style="italic">β</tspan>',58,false,{x:1607,y:2313,w:69,h:31});
ts('proton-density-chart',2638,2860,[0.4,1.8],rng(0.4,1.8,0.2),fmt(1),
  [{v:Np,c:'#0000ff',n:'np-line',l:'Np'}],
  'Proton Number Density','Np(#/cc)',64,false,null);
ts('proton-temperature-chart',2972,3194,[0.065,0.11],rng(0.065,0.11,0.005),fmt(3),
  [{v:Tp,c:'#0000ff',n:'tp-line',l:'Tp'}],
  'Proton Temperature and <tspan font-style="italic" font-family="Liberation Serif">T</tspan><tspan font-size="13" dy="4" font-style="italic">e</tspan><tspan dy="-4">/</tspan><tspan font-style="italic" font-family="Liberation Serif">T</tspan><tspan font-size="13" dy="4" font-style="italic">p</tspan>',
  'Tp(10<tspan font-size="10" dy="-6">6</tspan><tspan dy="6">K)</tspan>',35,false,null);
// Tp legend top-left
{
const g=mk('g',{});


mk('rect',{x:125,y:2979,width:71,height:28,fill:'#fff',stroke:'#000','stroke-width':2.5},g);
mk('line',{x1:135,x2:159,y1:2993,y2:2993,stroke:'#0000ff','stroke-width':2.5},g);
const t=mk('text',{x:170,y:2999,'font-size':16,fill:'#000'},g);t.textContent='Tp';
}
</script>
</body></html>
